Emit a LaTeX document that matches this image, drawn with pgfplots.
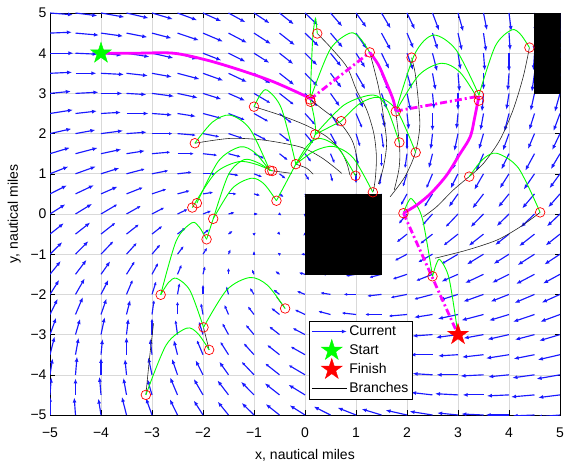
\documentclass[border=0pt]{standalone}
\usepackage{fontspec}
\setmainfont{Liberation Sans}
\usepackage{pgfplots}
\pgfplotsset{compat=1.18}
\usetikzlibrary{arrows.meta}
\definecolor{qblue}{RGB}{25,25,255}
\definecolor{mg}{RGB}{255,0,255}
\definecolor{gn}{RGB}{0,255,0}
\definecolor{rd}{RGB}{255,0,0}
\newcommand{\fs}{\fontsize{14}{16}\selectfont}
\pgfdeclareplotmark{fstar}{%
 \pgfpathmoveto{\pgfqpointpolar{90}{\pgfplotmarksize}}%
 \pgfpathlineto{\pgfqpointpolar{126}{0.382\pgfplotmarksize}}%
 \pgfpathlineto{\pgfqpointpolar{162}{\pgfplotmarksize}}%
 \pgfpathlineto{\pgfqpointpolar{198}{0.382\pgfplotmarksize}}%
 \pgfpathlineto{\pgfqpointpolar{234}{\pgfplotmarksize}}%
 \pgfpathlineto{\pgfqpointpolar{270}{0.382\pgfplotmarksize}}%
 \pgfpathlineto{\pgfqpointpolar{306}{\pgfplotmarksize}}%
 \pgfpathlineto{\pgfqpointpolar{342}{0.382\pgfplotmarksize}}%
 \pgfpathlineto{\pgfqpointpolar{18}{\pgfplotmarksize}}%
 \pgfpathlineto{\pgfqpointpolar{54}{0.382\pgfplotmarksize}}%
 \pgfpathclose
 \pgfusepathqfillstroke}
\pgfplotsset{
 qv/.style={qblue, line width=1.15pt, forget plot},
 br/.style={black!85, line width=0.6pt, smooth, forget plot},
 gr/.style={gn, line width=0.9pt, smooth, forget plot},
 mgs/.style={mg, line width=2.8pt, smooth, forget plot},
 mgd/.style={mg, line width=2.8pt, dash pattern=on 7pt off 3pt on 2pt off 3pt, forget plot},
}
\begin{document}
\begin{tikzpicture}
\begin{axis}[
 scale only axis, width=510pt, height=402pt,
 xmin=-5, xmax=5, ymin=-5, ymax=5,
 xtick={-5,-4,-3,-2,-1,0,1,2,3,4,5}, ytick={-5,-4,-3,-2,-1,0,1,2,3,4,5},
 xticklabels={−5,−4,−3,−2,−1,0,1,2,3,4,5},
 yticklabels={−5,−4,−3,−2,−1,0,1,2,3,4,5},
 tick label style={font=\fs},
 xticklabel style={yshift=-9pt},
 label style={font=\fs},
 xlabel={x, nautical miles}, ylabel={y, nautical miles},
 xlabel style={at={(axis description cs:0.5,-0.0853)}, anchor=north, inner sep=0pt},
 ylabel style={at={(axis description cs:-0.0569,0.5)}, anchor=south, inner sep=0pt},
 grid=major, major grid style={black!15, line width=0.6pt},
 tick align=inside, major tick length=5pt,
 tick style={black, line width=0.5pt},
 axis line style={black, line width=0.6pt},
 legend cell align=left,
 legend style={at={(axis description cs:0.508,0.235)}, anchor=north west, draw=black, fill=white, font=\fs,
   inner xsep=2pt, inner ysep=2pt, row sep=1.5pt,
   nodes={inner sep=2pt, text height=10.5pt, text depth=3pt}},
]
\coordinate (sw) at (rel axis cs:0,0);
\coordinate (ne) at (rel axis cs:1,1);

\addlegendimage{legend image code/.code={\draw[qblue,line width=1pt,-{Latex[length=5pt,width=4pt]}] (0pt,0pt) -- (35pt,0pt);}}
\addlegendentry{Current}
\addlegendimage{legend image code/.code={\path[draw=none,fill=none] (0pt,-4pt) rectangle (35pt,4pt); \path[overlay, draw=gn, fill=gn, mark size=11pt] plot[mark=fstar] coordinates {(20pt,0pt)};}}
\addlegendentry{Start}
\addlegendimage{legend image code/.code={\path[draw=none,fill=none] (0pt,-4pt) rectangle (35pt,4pt); \path[overlay, draw=rd, fill=rd, mark size=11pt] plot[mark=fstar] coordinates {(20pt,0pt)};}}
\addlegendentry{Finish}
\addlegendimage{legend image code/.code={\draw[black,line width=0.6pt] (0pt,0pt) -- (35pt,0pt);}}
\addlegendentry{Branches}

% ---- current field, band 1
\addplot[qv, -{Latex[length=3.4pt,width=3pt]}, quiver={u=\thisrow{u},v=\thisrow{v},scale arrows=0.08}] table {
x y u v
-1 3 4 -3
-0.5 3 3.5 -3.5
0 3 3 -4
-2 2.5 4.5 -1.5
-1.5 2.5 4 -2
-1 2.5 3.5 -2.5
-0.5 2.5 3 -3
0 2.5 2.5 -3.5
0.5 2.5 2 -4
1 2.5 1.5 -4.5
-3 2 5 0
-2.5 2 4.5 -0.5
-2 2 4 -1
-1.5 2 3.5 -1.5
-1 2 3 -2
-0.5 2 2.5 -2.5
0 2 2 -3
0.5 2 1.5 -3.5
1 2 1 -4
1.5 2 0.5 -4.5
2 2 0 -5
-3 1.5 4.5 0.5
-2.5 1.5 4 0
-2 1.5 3.5 -0.5
-1.5 1.5 3 -1
-1 1.5 2.5 -1.5
-0.5 1.5 2 -2
0 1.5 1.5 -2.5
0.5 1.5 1 -3
1 1.5 0.5 -3.5
1.5 1.5 0 -4
2 1.5 -0.5 -4.5
-3.5 1 4.5 1.5
-3 1 4 1
-2.5 1 3.5 0.5
-2 1 3 0
-1.5 1 2.5 -0.5
-1 1 2 -1
-0.5 1 1.5 -1.5
0 1 1 -2
0.5 1 0.5 -2.5
1 1 0 -3
1.5 1 -0.5 -3.5
2 1 -1 -4
2.5 1 -1.5 -4.5
-3.5 0.5 4 2
-3 0.5 3.5 1.5
-2.5 0.5 3 1
-2 0.5 2.5 0.5
-1.5 0.5 2 0
-1 0.5 1.5 -0.5
-0.5 0.5 1 -1
0 0.5 0.5 -1.5
0.5 0.5 0 -2
1 0.5 -0.5 -2.5
1.5 0.5 -1 -3
2 0.5 -1.5 -3.5
2.5 0.5 -2 -4
-4 0 4 3
-3.5 0 3.5 2.5
-3 0 3 2
-2.5 0 2.5 1.5
-2 0 2 1
-1.5 0 1.5 0.5
-1 0 1 0
-0.5 0 0.5 -0.5
0 0 0 -1
0.5 0 -0.5 -1.5
1 0 -1 -2
1.5 0 -1.5 -2.5
2 0 -2 -3
2.5 0 -2.5 -3.5
3 0 -3 -4
-4 -0.5 3.5 3.5
-3.5 -0.5 3 3
-3 -0.5 2.5 2.5
-2.5 -0.5 2 2
-2 -0.5 1.5 1.5
-1.5 -0.5 1 1
-1 -0.5 0.5 0.5
-0.5 -0.5 0.2 -0.3
0 -0.5 -0.5 -0.5
0.5 -0.5 -1 -1
1 -0.5 -1.5 -1.5
1.5 -0.5 -2 -2
2 -0.5 -2.5 -2.5
2.5 -0.5 -3 -3
3 -0.5 -3.5 -3.5
-4 -1 3 4
-3.5 -1 2.5 3.5
-3 -1 2 3
-2.5 -1 1.5 2.5
-2 -1 1 2
-1.5 -1 0.5 1.5
-1 -1 0 1
-0.5 -1 -0.5 0.5
0 -1 -1 0
0.5 -1 -1.5 -0.5
1 -1 -2 -1
1.5 -1 -2.5 -1.5
2 -1 -3 -2
2.5 -1 -3.5 -2.5
3 -1 -4 -3
-3.5 -1.5 2 4
-3 -1.5 1.5 3.5
-2.5 -1.5 1 3
-2 -1.5 0.5 2.5
-1.5 -1.5 0 2
-1 -1.5 -0.5 1.5
-0.5 -1.5 -1 1
0 -1.5 -1.5 0.5
0.5 -1.5 -2 0
1 -1.5 -2.5 -0.5
1.5 -1.5 -3 -1
2 -1.5 -3.5 -1.5
2.5 -1.5 -4 -2
-3.5 -2 1.5 4.5
-3 -2 1 4
-2.5 -2 0.5 3.5
-2 -2 0 3
-1.5 -2 -0.5 2.5
-1 -2 -1 2
-0.5 -2 -1.5 1.5
0 -2 -2 1
0.5 -2 -2.5 0.5
1 -2 -3 0
1.5 -2 -3.5 -0.5
2 -2 -4 -1
2.5 -2 -4.5 -1.5
-3 -2.5 0.5 4.5
-2.5 -2.5 0 4
-2 -2.5 -0.5 3.5
-1.5 -2.5 -1 3
-1 -2.5 -1.5 2.5
-0.5 -2.5 -2 2
0 -2.5 -2.5 1.5
0.5 -2.5 -3 1
1 -2.5 -3.5 0.5
1.5 -2.5 -4 0
2 -2.5 -4.5 -0.5
-3 -3 0 5
-2.5 -3 -0.5 4.5
-2 -3 -1 4
-1.5 -3 -1.5 3.5
-1 -3 -2 3
-0.5 -3 -2.5 2.5
0 -3 -3 2
0.5 -3 -3.5 1.5
1 -3 -4 1
1.5 -3 -4.5 0.5
2 -3 -5 0
-2 -3.5 -1.5 4.5
-1.5 -3.5 -2 4
-1 -3.5 -2.5 3.5
-0.5 -3.5 -3 3
0 -3.5 -3.5 2.5
0.5 -3.5 -4 2
1 -3.5 -4.5 1.5
-1 -4 -3 4
-0.5 -4 -3.5 3.5
0 -4 -4 3
};
% ---- band 2
\addplot[qv, -{Latex[length=5pt,width=4pt]}, quiver={u=\thisrow{u},v=\thisrow{v},scale arrows=0.072}] table {
x y u v
-2.5 3.5 6 -2
-2 3.5 5.5 -2.5
-1.5 3.5 5 -3
-1 3.5 4.5 -3.5
-0.5 3.5 4 -4
0 3.5 3.5 -4.5
0.5 3.5 3 -5
1 3.5 2.5 -5.5
1.5 3.5 2 -6
-3 3 6 -1
-2.5 3 5.5 -1.5
-2 3 5 -2
-1.5 3 4.5 -2.5
0.5 3 2.5 -4.5
1 3 2 -5
1.5 3 1.5 -5.5
2 3 1 -6
-3.5 2.5 6 0
-3 2.5 5.5 -0.5
-2.5 2.5 5 -1
1.5 2.5 1 -5
2 2.5 0.5 -5.5
2.5 2.5 0 -6
-4 2 6 1
-3.5 2 5.5 0.5
2.5 2 -0.5 -5.5
3 2 -1 -6
-4.5 1.5 6 2
-4 1.5 5.5 1.5
-3.5 1.5 5 1
2.5 1.5 -1 -5
3 1.5 -1.5 -5.5
3.5 1.5 -2 -6
-4.5 1 5.5 2.5
-4 1 5 2
3 1 -2 -5
3.5 1 -2.5 -5.5
-4.5 0.5 5 3
-4 0.5 4.5 2.5
3 0.5 -2.5 -4.5
3.5 0.5 -3 -5
-4.5 0 4.5 3.5
3.5 0 -3.5 -4.5
-4.5 -0.5 4 4
3.5 -0.5 -4 -4
-4.5 -1 3.5 4.5
3.5 -1 -4.5 -3.5
-4.5 -1.5 3 5
-4 -1.5 2.5 4.5
3 -1.5 -4.5 -2.5
3.5 -1.5 -5 -3
-4.5 -2 2.5 5.5
-4 -2 2 5
3 -2 -5 -2
3.5 -2 -5.5 -2.5
-4.5 -2.5 2 6
-4 -2.5 1.5 5.5
-3.5 -2.5 1 5
2.5 -2.5 -5 -1
3 -2.5 -5.5 -1.5
3.5 -2.5 -6 -2
-4 -3 1 6
-3.5 -3 0.5 5.5
2.5 -3 -5.5 -0.5
3 -3 -6 -1
-3.5 -3.5 0 6
-3 -3.5 -0.5 5.5
-2.5 -3.5 -1 5
1.5 -3.5 -5 1
2 -3.5 -5.5 0.5
2.5 -3.5 -6 0
-3 -4 -1 6
-2.5 -4 -1.5 5.5
-2 -4 -2 5
-1.5 -4 -2.5 4.5
0.5 -4 -4.5 2.5
1 -4 -5 2
1.5 -4 -5.5 1.5
2 -4 -6 1
-2.5 -4.5 -2 6
-2 -4.5 -2.5 5.5
-1.5 -4.5 -3 5
-1 -4.5 -3.5 4.5
-0.5 -4.5 -4 4
0 -4.5 -4.5 3.5
0.5 -4.5 -5 3
1 -4.5 -5.5 2.5
1.5 -4.5 -6 2
};
% ---- band 3
\addplot[qv, -{Latex[length=5pt,width=4pt]}, quiver={u=\thisrow{u},v=\thisrow{v},scale arrows=0.06}] table {
x y u v
-2.5 4.5 7 -3
-2 4.5 6.5 -3.5
-1.5 4.5 6 -4
-1 4.5 5.5 -4.5
-0.5 4.5 5 -5
0 4.5 4.5 -5.5
0.5 4.5 4 -6
1 4.5 3.5 -6.5
1.5 4.5 3 -7
-3.5 4 7.5 -1.5
-3 4 7 -2
-2.5 4 6.5 -2.5
-2 4 6 -3
-1.5 4 5.5 -3.5
-1 4 5 -4
-0.5 4 4.5 -4.5
0 4 4 -5
0.5 4 3.5 -5.5
1 4 3 -6
1.5 4 2.5 -6.5
2 4 2 -7
2.5 4 1.5 -7.5
-4 3.5 7.5 -0.5
-3.5 3.5 7 -1
-3 3.5 6.5 -1.5
2 3.5 1.5 -6.5
2.5 3.5 1 -7
3 3.5 0.5 -7.5
-4.5 3 7.5 0.5
-4 3 7 0
-3.5 3 6.5 -0.5
2.5 3 0.5 -6.5
3 3 0 -7
3.5 3 -0.5 -7.5
-5 2.5 7.5 1.5
-4.5 2.5 7 1
-4 2.5 6.5 0.5
3 2.5 -0.5 -6.5
3.5 2.5 -1 -7
4 2.5 -1.5 -7.5
-5 2 7 2
-4.5 2 6.5 1.5
3.5 2 -1.5 -6.5
4 2 -2 -7
-5 1.5 6.5 2.5
4 1.5 -2.5 -6.5
4.5 1.5 -3 -7
-5 1 6 3
4 1 -3 -6
4.5 1 -3.5 -6.5
-5 0.5 5.5 3.5
4 0.5 -3.5 -5.5
4.5 0.5 -4 -6
-5 0 5 4
4 0 -4 -5
4.5 0 -4.5 -5.5
-5 -0.5 4.5 4.5
4 -0.5 -4.5 -4.5
4.5 -0.5 -5 -5
-5 -1 4 5
4 -1 -5 -4
4.5 -1 -5.5 -4.5
-5 -1.5 3.5 5.5
4 -1.5 -5.5 -3.5
4.5 -1.5 -6 -4
-5 -2 3 6
4 -2 -6 -3
4.5 -2 -6.5 -3.5
-5 -2.5 2.5 6.5
4 -2.5 -6.5 -2.5
4.5 -2.5 -7 -3
-5 -3 2 7
-4.5 -3 1.5 6.5
3.5 -3 -6.5 -1.5
4 -3 -7 -2
-5 -3.5 1.5 7.5
-4.5 -3.5 1 7
-4 -3.5 0.5 6.5
3 -3.5 -6.5 -0.5
3.5 -3.5 -7 -1
4 -3.5 -7.5 -1.5
-4.5 -4 0.5 7.5
-4 -4 0 7
-3.5 -4 -0.5 6.5
2.5 -4 -6.5 0.5
3 -4 -7 0
3.5 -4 -7.5 -0.5
-4 -4.5 -0.5 7.5
-3.5 -4.5 -1 7
-3 -4.5 -1.5 6.5
2 -4.5 -6.5 1.5
2.5 -4.5 -7 1
3 -4.5 -7.5 0.5
-3.5 -5 -1.5 7.5
-3 -5 -2 7
-2.5 -5 -2.5 6.5
-2 -5 -3 6
-1.5 -5 -3.5 5.5
-1 -5 -4 5
-0.5 -5 -4.5 4.5
0 -5 -5 4
0.5 -5 -5.5 3.5
1 -5 -6 3
1.5 -5 -6.5 2.5
2 -5 -7 2
2.5 -5 -7.5 1.5
};
% ---- band 4
\addplot[qv, -{Latex[length=5pt,width=4pt]}, quiver={u=\thisrow{u},v=\thisrow{v},scale arrows=0.051}] table {
x y u v
-4 5 9 -2
-3.5 5 8.5 -2.5
-3 5 8 -3
-2.5 5 7.5 -3.5
-2 5 7 -4
-1.5 5 6.5 -4.5
-1 5 6 -5
-0.5 5 5.5 -5.5
0 5 5 -6
0.5 5 4.5 -6.5
1 5 4 -7
1.5 5 3.5 -7.5
2 5 3 -8
2.5 5 2.5 -8.5
3 5 2 -9
-4.5 4.5 9 -1
-4 4.5 8.5 -1.5
-3.5 4.5 8 -2
-3 4.5 7.5 -2.5
2 4.5 2.5 -7.5
2.5 4.5 2 -8
3 4.5 1.5 -8.5
3.5 4.5 1 -9
-5 4 9 0
-4.5 4 8.5 -0.5
-4 4 8 -1
3 4 1 -8
3.5 4 0.5 -8.5
4 4 0 -9
-5 3.5 8.5 0.5
-4.5 3.5 8 0
3.5 3.5 0 -8
4 3.5 -0.5 -8.5
4.5 3.5 -1 -9
-5 3 8 1
4 3 -1 -8
4.5 3 -1.5 -8.5
5 3 -2 -9
4.5 2.5 -2 -8
5 2.5 -2.5 -8.5
4.5 2 -2.5 -7.5
5 2 -3 -8
5 1.5 -3.5 -7.5
5 1 -4 -7
5 0.5 -4.5 -6.5
5 0 -5 -6
5 -0.5 -5.5 -5.5
5 -1 -6 -5
5 -1.5 -6.5 -4.5
5 -2 -7 -4
5 -2.5 -7.5 -3.5
4.5 -3 -7.5 -2.5
5 -3 -8 -3
4.5 -3.5 -8 -2
5 -3.5 -8.5 -2.5
-5 -4 1 8
4 -4 -8 -1
4.5 -4 -8.5 -1.5
5 -4 -9 -2
-5 -4.5 0.5 8.5
-4.5 -4.5 0 8
3.5 -4.5 -8 0
4 -4.5 -8.5 -0.5
4.5 -4.5 -9 -1
-5 -5 0 9
-4.5 -5 -0.5 8.5
-4 -5 -1 8
3 -5 -8 1
3.5 -5 -8.5 0.5
4 -5 -9 0
};
% ---- band 5
\addplot[qv, -{Latex[length=5pt,width=4pt]}, quiver={u=\thisrow{u},v=\thisrow{v},scale arrows=0.045}] table {
x y u v
-5 5 10 -1
-4.5 5 9.5 -1.5
3.5 5 1.5 -9.5
4 5 1 -10
4.5 5 0.5 -10.5
5 5 0 -11
-5 4.5 9.5 0.5
4 4.5 0.5 -9.5
4.5 4.5 0 -10
5 4.5 -0.5 -10.5
4.5 4 -0.5 -9.5
5 4 -1 -10
5 3.5 -1.5 -9.5
5 -4.5 -9.5 -1.5
4.5 -5 -9.5 -0.5
5 -5 -10 -1
};

% ---- obstacles
\addplot[fill=black, draw=black, forget plot] coordinates {(0,-1.5) (1.5,-1.5) (1.5,0.5) (0,0.5)} -- cycle;
\addplot[fill=black, draw=black, forget plot] coordinates {(4.5,3) (5,3) (5,5) (4.5,5)} -- cycle;

% ---- branches (black)
\addplot[br] coordinates {(-1.0,2.67) (-0.49,2.46) (0.03,2.2) (0.43,1.92) (0.69,1.59) (0.82,1.26) (0.88,0.97)};
\addplot[br] coordinates {(-2.16,1.76) (-1.47,1.88) (-0.82,1.84) (-0.1,1.67) (0.29,1.43) (0.56,1.18) (0.72,1.01)};
\addplot[br] coordinates {(-0.67,1.08) (-0.26,1.01)};
\addplot[br] coordinates {(-0.18,1.24) (0.03,1.14) (0.16,0.99)};
\addplot[br] coordinates {(0.24,4.49) (0.49,4.16) (0.82,3.66) (1.01,3.08) (1.21,2.59) (1.35,2.0) (1.4,1.43) (1.38,0.9) (1.34,0.56)};
\addplot[br] coordinates {(0.1,2.85) (0.36,2.59) (0.69,2.26) (0.92,1.84) (1.01,1.43) (1.01,0.97)};
\addplot[br] coordinates {(1.27,4.02) (1.44,3.17) (1.54,2.42) (1.6,1.76) (1.54,1.18) (1.44,0.75)};
\addplot[br] coordinates {(2.09,3.89) (2.16,3.5) (2.22,2.84) (2.25,2.17) (2.16,1.51) (1.96,0.93) (1.67,0.43)};
\addplot[br] coordinates {(1.78,2.55) (1.83,2.0) (1.86,1.51) (1.84,1.1) (1.75,0.6)};
\addplot[br] coordinates {(4.4,4.14) (4.28,3.42) (4.08,2.59) (3.82,1.84) (3.5,1.26) (3.22,0.93)};
\addplot[br] coordinates {(3.22,0.93) (2.91,0.6) (2.58,0.18) (2.32,-0.07)};
\addplot[br] coordinates {(4.61,0.04) (4.22,-0.32) (3.76,-0.65) (3.17,-0.9) (2.55,-1.1)};
\addplot[br] coordinates {(-3.12,-4.5) (-3.05,-3.6) (-2.97,-2.72)};
\addplot[br] coordinates {(-0.39,-2.35) (-0.56,-2.06)};
\addplot[br] coordinates {(-1.88,-3.38) (-1.99,-2.82)};

% ---- green arcs
\addplot[gr] coordinates {(-2.16,1.76) (-1.815,2.285) (-1.47,2.46) (-1.08,2.115) (-0.69,1.08)};
\addplot[gr] coordinates {(-1.0,2.67) (-0.87,2.978) (-0.74,3.08) (-0.46,2.62) (-0.18,1.24)};
\addplot[gr] coordinates {(-2.12,0.27) (-1.695,1.32) (-1.27,1.67) (-0.98,1.5225) (-0.69,1.08)};
\addplot[gr] coordinates {(-2.21,0.16) (-1.76,1.015) (-1.31,1.3) (-0.975,1.2425) (-0.64,1.07)};
\addplot[gr] coordinates {(-1.8,-0.12) (-1.5,0.9825) (-1.2,1.35) (-0.935,1.2825) (-0.67,1.08)};
\addplot[gr] coordinates {(-1.8,-0.12) (-1.425,0.6375) (-1.05,0.89) (-0.805,0.75) (-0.56,0.33)};
\addplot[gr] coordinates {(-0.56,0.33) (-0.18,1.24)};
\addplot[gr] coordinates {(-0.18,1.24) (0.2,1.98) (0.1,2.85)};
\addplot[gr] coordinates {(0.1,2.85) (0.15,4.35) (0.2,4.85) (0.22,4.76) (0.24,4.49)};
\addplot[gr] coordinates {(0.1,2.85) (0.49,4.0875) (0.88,4.5) (1.075,4.38) (1.27,4.02)};
\addplot[gr] coordinates {(-0.18,1.24) (0.06,1.72) (0.3,1.88) (0.645,1.6475) (0.99,0.95)};
\addplot[gr] coordinates {(-0.18,1.24) (0.19,1.57) (0.56,1.68) (0.945,1.395) (1.33,0.54)};
\addplot[gr] coordinates {(0.2,1.98) (0.77,2.715) (1.34,2.96) (1.595,2.665) (1.85,1.78)};
\addplot[gr] coordinates {(0.71,2.31) (1.08,2.7525) (1.45,2.9) (1.81,2.5575) (2.17,1.53)};
\addplot[gr] coordinates {(0.2,1.98) (0.71,2.31)};
\addplot[gr] coordinates {(1.78,2.55) (2.15,3.975) (2.52,4.45) (2.965,4.0775) (3.41,2.96)};
\addplot[gr] coordinates {(1.78,2.55) (2.23,3.45) (2.68,3.75) (3.045,3.5175) (3.41,2.82)};
\addplot[gr] coordinates {(3.41,2.96) (3.73,4.175) (4.05,4.58) (4.225,4.47) (4.40,4.14)};
\addplot[gr] coordinates {(3.22,0.93) (3.49,1.365) (3.76,1.51) (4.185,1.1425) (4.61,0.04)};
\addplot[gr] coordinates {(1.93,0.02) (2.015,0.2825) (2.1,0.37) (2.3,-0.11) (2.5,-1.55)};
\addplot[gr] coordinates {(2.5,-1.55) (2.575,-1.2425) (2.65,-1.14) (2.825,-1.605) (3.0,-3.0)};
\addplot[gr] coordinates {(-3.12,-4.5) (-2.72,-3.255) (-2.32,-2.84) (-2.1,-2.975) (-1.88,-3.38)};
\addplot[gr] coordinates {(-2.83,-2.01) (-2.675,-1.7025) (-2.52,-1.6) (-2.255,-1.905) (-1.99,-2.82)};
\addplot[gr] coordinates {(-1.99,-2.82) (-1.535,-1.89) (-1.08,-1.58) (-0.735,-1.7725) (-0.39,-2.35)};
\addplot[gr] coordinates {(-2.83,-2.01) (-2.525,-0.6675) (-2.22,-0.22) (-2.075,-0.3225) (-1.93,-0.63)};
\addplot[gr] coordinates {(-1.93,-0.63) (-1.8,-0.12)};

% ---- route (magenta)
\addplot[mgs] coordinates {(-4.0,4.0) (-3.3,4.0) (-2.58,4.0) (-1.93,3.83) (-1.27,3.58) (-0.62,3.29) (0.03,2.92) (0.1,2.85)};
\addplot[mgd] coordinates {(0.1,2.85) (1.27,4.02)};
\addplot[mgs] coordinates {(1.27,4.02) (1.44,3.71) (1.6,3.25) (1.73,2.84) (1.78,2.56)};
\addplot[mgd] coordinates {(1.78,2.56) (3.41,2.93)};
\addplot[mgs] coordinates {(3.41,2.93) (3.33,2.42) (3.24,1.92) (3.04,1.5) (2.78,0.97) (2.48,0.53) (2.21,0.24) (1.93,0.02)};
\addplot[mgd] coordinates {(1.93,0.02) (3.0,-3.0)};

% ---- nodes
\addplot[only marks, mark=o, mark size=4.8pt, rd, mark options={line width=0.7pt}, forget plot] coordinates {
(0.1,2.85) (0.11,2.79) (0.24,4.49) (1.27,4.02) (2.09,3.89) (4.40,4.14) (3.41,2.96) (3.41,2.82)
(1.78,2.55) (0.71,2.31) (0.2,1.98) (1.85,1.78) (2.17,1.53) (-1.0,2.67) (-2.16,1.76) (-0.18,1.24)
(-0.69,1.08) (-0.64,1.07) (-0.56,0.33) (0.99,0.95) (1.33,0.54) (-2.12,0.27) (-2.21,0.16) (-1.8,-0.12)
(-1.93,-0.63) (3.22,0.93) (1.93,0.02) (4.61,0.04) (2.5,-1.55) (-2.83,-2.01) (-0.39,-2.35) (-1.99,-2.82)
(-1.88,-3.38) (-3.12,-4.5)};

% ---- start / finish
\addplot[only marks, mark=fstar, mark size=11pt, mark options={draw=gn, fill=gn}, forget plot] coordinates {(-4,4)};
\addplot[only marks, mark=fstar, mark size=11pt, mark options={draw=rd, fill=rd}, forget plot] coordinates {(3,-3)};
\end{axis}
\pgfresetboundingbox
\path ([xshift=-50pt,yshift=-49pt]sw) rectangle ([xshift=5pt,yshift=13pt]ne);
\end{tikzpicture}
\end{document}
